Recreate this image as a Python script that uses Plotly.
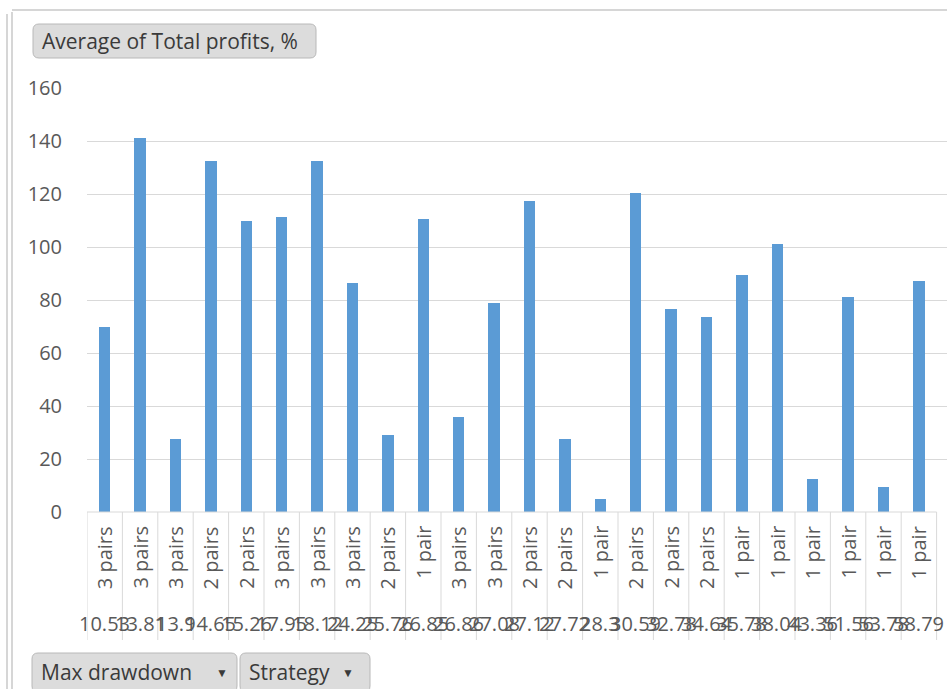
import plotly.graph_objects as go

# data
max_drawdown = ["10.53", "13.81", "13.9", "14.65", "15.26", "17.95", "18.12", "24.25",
                "25.76", "26.85", "26.86", "27.08", "27.12", "27.72", "28.3", "30.59",
                "32.78", "34.64", "35.78", "38.04", "43.36", "51.56", "53.78", "58.79"]
strategy = ["3 pairs", "3 pairs", "3 pairs", "2 pairs", "2 pairs", "3 pairs", "3 pairs", "3 pairs",
            "2 pairs", "1 pair", "3 pairs", "3 pairs", "2 pairs", "2 pairs", "1 pair", "2 pairs",
            "2 pairs", "2 pairs", "1 pair", "1 pair", "1 pair", "1 pair", "1 pair", "1 pair"]
avg_profit = [70, 141, 27.5, 132.5, 110, 111.5, 132.5, 86.5, 29, 110.5, 36, 79,
              117.5, 27.5, 5, 120.5, 76.5, 73.5, 89.5, 101, 12.5, 81, 9.5, 87]

W, H = 947, 689
L, R, T, B = 87, 947, 88, 512   # plot area in pixels
CAT_W = 35.4
FONT = "Open Sans"
GRAY = "#595959"
LINE = "#d9d9d9"


def px(x):
    return (x - L) / (R - L)


def py(y):
    return (B - y) / (B - T)


def rounded(x0, y0, x1, y1, r=6):
    rx, ry = r / (R - L), r / (B - T)
    a, b, c, d = px(x0), px(x1), py(y0), py(y1)  # c top, d bottom
    return (f"M{a+rx},{c} L{b-rx},{c} Q{b},{c} {b},{c-ry} L{b},{d+ry} Q{b},{d} {b-rx},{d} "
            f"L{a+rx},{d} Q{a},{d} {a},{d+ry} L{a},{c-ry} Q{a},{c} {a+rx},{c} Z")


idx = list(range(len(avg_profit)))
fig = go.Figure(go.Bar(x=idx, y=avg_profit, width=0.32, marker=dict(color="#5b9bd5", line=dict(width=0)),
                       hovertemplate="%{customdata}<br>%{y}<extra></extra>",
                       customdata=[f"{m} / {s}" for m, s in zip(max_drawdown, strategy)]))

shapes = []
annotations = []
# category separators through both label rows
for k in range(len(idx) + 1):
    shapes.append(dict(type="line", xref="x", yref="paper", x0=k - 0.5, x1=k - 0.5,
                       y0=0, y1=py(640), line=dict(color=LINE, width=1)))
shapes.append(dict(type="line", xref="x", yref="paper", x0=-0.5, x1=len(idx) - 0.5,
                   y0=0, y1=0, line=dict(color=LINE, width=1)))

for i, (s, m) in enumerate(zip(strategy, max_drawdown)):
    annotations.append(dict(x=i, y=0, xref="x", yref="paper", text=s, textangle=-90,
                            showarrow=False, yanchor="top", yshift=-12,
                            font=dict(family=FONT, size=20, color=GRAY)))
    annotations.append(dict(x=i, y=py(623), xref="x", yref="paper", text=m,
                            showarrow=False, yanchor="middle",
                            font=dict(family=FONT, size=20, color=GRAY)))

# chart frame
frame = "#c8c8c8"
shapes += [
    dict(type="line", xref="paper", yref="paper", x0=px(7), x1=px(7), y0=py(14), y1=py(689),
         line=dict(color=frame, width=1.5)),
    dict(type="line", xref="paper", yref="paper", x0=px(12), x1=px(12), y0=py(12), y1=py(689),
         line=dict(color=frame, width=1.5)),
    dict(type="line", xref="paper", yref="paper", x0=px(12), x1=px(947), y0=py(10), y1=py(10),
         line=dict(color=frame, width=1.5)),
]

# pivot field buttons: x0, y0, x1, y1, label, text centre y, dropdown arrow x
buttons = [
    (33, 24, 316, 58, "Average of Total profits, %", 41, None),
    (32, 653, 237, 692, "Max drawdown", 672, 222),
    (240, 653, 370, 692, "Strategy", 672, 348),
]
for x0, y0, x1, y1, label, yc, arrow_x in buttons:
    shapes.append(dict(type="path", xref="paper", yref="paper", path=rounded(x0, y0, x1, y1),
                       fillcolor="#dcdcdc", line=dict(color="#b8b8b8", width=1)))
    annotations.append(dict(x=px(x0 + 7), y=py(yc), xref="paper", yref="paper", text=label,
                            showarrow=False, xanchor="left", yanchor="middle",
                            font=dict(family=FONT, size=21, color="#3a3a3a")))
    if arrow_x:
        annotations.append(dict(x=px(arrow_x), y=py(yc), xref="paper", yref="paper", text="▼",
                                showarrow=False, xanchor="center", yanchor="middle",
                                font=dict(family=FONT, size=12, color="#3a3a3a")))

fig.update_layout(
    width=W, height=H,
    margin=dict(l=L, r=W - R, t=T, b=H - B),
    paper_bgcolor="white", plot_bgcolor="white",
    showlegend=False,
    bargap=0,
    xaxis=dict(range=[-0.5, -0.5 + (R - L) / CAT_W], showticklabels=False, showgrid=False,
               zeroline=False, showline=False, fixedrange=True),
    yaxis=dict(range=[0, 160], dtick=20, tick0=0, showgrid=True, gridcolor=LINE, gridwidth=1,
               zeroline=False, showline=False, ticks="", ticklabelstandoff=24,
               tickfont=dict(family=FONT, size=20, color=GRAY), fixedrange=True),
    shapes=shapes,
    annotations=annotations,
)

fig.write_html("out.html", config={"displayModeBar": False},
               post_script="document.body.style.margin='0';")
